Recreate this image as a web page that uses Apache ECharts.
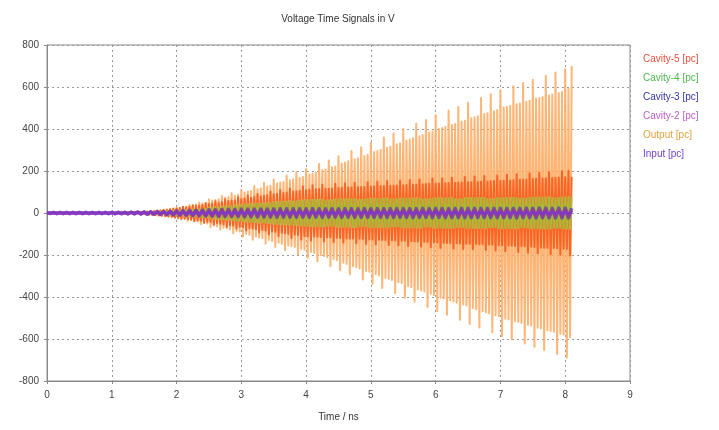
<!DOCTYPE html>
<html>
<head>
<meta charset="utf-8">
<script src="https://cdn.jsdelivr.net/npm/echarts@6/dist/echarts.min.js"></script>
<style>
  html, body { margin: 0; padding: 0; background: #fff; }
  #chart { width: 719px; height: 430px; }
</style>
</head>
<body>
<div id="chart"></div>
<script>
// Sampling of the exported traces: the large traces are stored from 1.0 ns at a
// fine step, the small ones from 0 ns at a coarser step.
const fineStartNs = 1.0;
const fineStepNs = 0.025;
const coarseStartNs = 0;
const coarseStepNs = 0.05;

const xTicks = [0, 1, 2, 3, 4, 5, 6, 7, 8, 9];
const yTicks = [-800, -600, -400, -200, 0, 200, 400, 600, 800];

// Output [pc], V (fine step, one row = 0.5 ns)
const outputPc = [
  0,0,1,-1,1,-1,1,-2,2,-2,2,-3,3,-3,4,-4,4,-5,5,-6,
  6,-7,8,-8,9,-10,11,-11,12,-13,14,-15,16,-17,18,-19,20,-21,22,-23,
  25,-27,24,-26,27,-29,30,-38,39,-35,37,-38,40,-41,50,-52,46,-47,49,-50,
  65,-67,59,-60,62,-64,65,-79,81,-71,73,-74,76,-78,94,-96,83,-85,87,-88,
  110,-112,98,-99,102,-104,105,-127,129,-112,114,-116,118,-120,144,-146,126,-128,130,-133,
  160,-162,140,-142,145,-146,148,-177,179,-155,156,-158,161,-162,194,-196,168,-171,173,-175,
  210,-213,184,-186,188,-190,193,-230,233,-201,203,-205,207,-210,250,-253,218,-219,222,-224,
  270,-273,235,-237,240,-243,246,-292,295,-253,256,-258,261,-264,313,-317,272,-275,277,-280,
  335,-338,290,-292,295,-298,301,-357,360,-309,311,-314,316,-319,378,-382,327,-330,332,-335,
  400,-403,345,-348,350,-354,356,-422,425,-364,366,-369,371,-374,443,-447,383,-385,388,-390,
  465,-468,400,-403,405,-407,410,-485,488,-417,420,-422,424,-427,505,-508,434,-436,439,-441,
  525,-528,451,-454,456,-458,461,-545,548,-468,471,-473,475,-478,565,-568,485,-487,490,-492,
  585,-587,502,-503,506,-507,509,-602,604,-516,518,-519,522,-524,619,-621,530,-532,534,-536,
  635,-637,544,-546,548,-550,552,-652,654,-558,560,-562,564,-566,669,-671,572,-575,576,-579,
  685,-688,590,-592,700
];

// Cavity-5 [pc], V (fine step)
const cavity5Pc = [
  0,0,0,0,1,-1,1,-1,1,-2,2,-2,2,-3,3,-3,3,-4,4,-4,
  5,-6,6,-7,7,-8,8,-9,10,-10,11,-12,13,-14,15,-16,17,-18,20,-22,
  21,-22,24,-29,30,-26,27,-29,30,-31,37,-39,34,-35,36,-37,38,-46,47,-42,
  43,-43,45,-54,56,-48,49,-51,52,-54,64,-65,57,-58,60,-60,61,-74,75,-65,
  66,-67,69,-82,83,-72,73,-74,76,-77,91,-93,80,-81,82,-83,84,-101,102,-88,
  89,-90,92,-109,110,-94,95,-97,98,-99,117,-119,102,-103,104,-105,106,-126,127,-110,
  110,-111,111,-131,132,-112,113,-113,114,-114,135,-135,116,-116,116,-116,117,-138,139,-118,
  119,-119,120,-141,142,-121,121,-122,122,-122,144,-144,123,-123,124,-124,124,-147,147,-126,
  126,-126,127,-149,149,-127,128,-128,128,-129,152,-152,130,-130,130,-131,131,-154,154,-132,
  132,-132,133,-157,157,-134,134,-135,135,-136,160,-160,137,-137,138,-138,139,-163,164,-140,
  140,-141,141,-166,166,-142,142,-143,143,-143,168,-169,144,-144,145,-145,145,-171,171,-146,
  146,-147,147,-173,174,-148,148,-149,149,-149,176,-176,150,-150,151,-151,152,-179,179,-152,
  153,-153,154,-182,182,-155,155,-156,156,-157,185,-186,158,-158,159,-159,160,-189,189,-161,
  162,-162,163,-192,192,-164,164,-165,165,-166,195,-196,167,-167,168,-168,169,-199,199,-170,
  170,-171,201,-202,172
];

// Cavity-4 [pc], V (fine step)
const cavity4Pc = [
  0,0,0,0,0,0,1,-1,1,-1,1,-1,1,-1,2,-2,2,-2,2,-3,
  3,-3,4,-4,5,-5,5,-6,6,-7,7,-8,8,-9,9,-10,10,-10,11,-11,
  12,-11,12,-13,14,-14,14,-15,15,-16,18,-17,16,-17,18,-19,19,-20,20,-21,
  25,-24,26,-27,28,-28,29,-29,30,-31,32,-33,31,-32,33,-34,36,-37,38,-38,
  40,-39,41,-41,42,-42,43,-43,44,-44,46,-46,44,-45,46,-47,48,-49,50,-50,
  52,-51,52,-53,54,-54,55,-55,56,-56,57,-57,55,-56,57,-58,59,-60,61,-61,
  62,-61,62,-63,63,-63,63,-63,64,-64,64,-64,60,-60,61,-61,62,-62,65,-65,
  65,-65,66,-66,66,-66,66,-66,67,-67,67,-67,62,-63,63,-63,64,-64,68,-68,
  68,-68,68,-68,68,-68,68,-68,69,-69,69,-69,64,-64,64,-64,65,-65,69,-69,
  69,-69,69,-69,69,-69,69,-69,70,-70,70,-70,65,-65,65,-65,66,-66,70,-70,
  70,-70,70,-70,70,-70,70,-70,71,-71,71,-71,66,-66,66,-66,67,-67,71,-71,
  71,-71,71,-71,71,-71,71,-71,72,-72,72,-72,67,-67,67,-67,68,-68,72,-72,
  72,-72,72,-72,72,-72,72,-72,73,-73,73,-73,68,-68,68,-68,69,-69,73,-73,
  73,-73,74,-74,74,-74,74,-74,74,-74,75,-75,70,-70,70,-70,71,-71,75,-75,
  75,-75,76,-76,76
];

// Cavity-3 [pc], V (coarse step, one row = 0.5 ns)
const cavity3Pc = [
  0,0,0,0,0,0,0,0,0,0,
  0,0,0,0,0,0,0,0,0,0,
  1,-1,1,-1,1,-2,2,-2,3,-3,
  4,-4,5,-5,6,-6,7,-7,8,-9,
  10,-10,11,-11,12,-12,13,-13,14,-14,
  15,-15,15,-16,16,-16,17,-17,17,-17,
  18,-18,18,-18,18,-19,19,-19,19,-19,
  20,-20,20,-20,20,-20,20,-20,20,-20,
  20,-20,21,-20,20,-21,20,-20,21,-20,
  20,-21,21,-20,21,-21,20,-21,21,-21,
  21,-21,21,-21,21,-21,21,-21,21,-21,
  21,-21,21,-22,21,-21,22,-21,21,-22,
  22,-21,22,-22,21,-22,22,-22,22,-22,
  22,-22,22,-22,22,-22,22,-22,22,-22,
  22,-22,22,-22,22,-23,22,-22,23,-22,
  22,-23,23,-22,23,-23,22,-23,23,-23,
  23,-23,23
];

// Cavity-2 [pc], V (coarse step)
const cavity2Pc = [
  0,0,0,0,0,0,0,0,0,0,
  1,-1,1,-1,1,-1,2,-2,2,-2,
  2,-3,3,-3,3,-4,4,-4,5,-5,
  5,-6,6,-6,7,-7,7,-8,8,-8,
  9,-9,9,-10,10,-10,10,-11,11,-11,
  11,-12,12,-12,12,-12,12,-12,12,-12,
  12,-12,12,-13,12,-12,13,-12,12,-13,
  12,-12,13,-13,12,-13,13,-12,13,-13,
  13,-13,12,-13,13,-13,13,-13,12,-13,
  13,-13,13,-12,13,-13,13,-13,13,-13,
  13,-13,13,-13,12,-13,13,-13,13,-13,
  13,-13,13,-13,13,-13,13,-13,13,-13,
  13,-13,13,-13,13,-13,13,-13,13,-13,
  13,-13,13,-13,13,-13,13,-13,13,-13,
  13,-13,13,-13,13,-13,13,-13,13,-13,
  13,-13,13,-13,13,-13,13,-13,13,-13,
  13,-13,13
];

// Input [pc], V (coarse step)
const inputPc = [
  5,-5,6,-6,6,-6,6,-6,6,-6,
  6,-6,6,-6,6,-6,6,-6,6,-6,
  6,-6,6,-6,6,-6,6,-6,6,-6,
  6,-6,6,-6,6,-6,6,-6,6,-6,
  6,-6,6,-6,6,-6,6,-6,6,-6,
  6,-6,6,-6,6,-6,6,-6,6,-6,
  6,-6,6,-6,6,-6,6,-6,6,-6,
  6,-6,6,-6,6,-6,6,-6,6,-6,
  6,-6,6,-6,6,-6,6,-6,6,-6,
  6,-6,6,-6,6,-6,6,-6,6,-6,
  6,-6,6,-6,6,-6,6,-6,6,-6,
  6,-6,6,-6,6,-6,6,-6,6,-6,
  6,-6,6,-6,6,-6,6,-6,6,-6,
  6,-6,6,-6,6,-6,6,-6,6,-6,
  6,-6,6,-6,6,-6,6,-6,6,-6,
  6,-6,6,-6,6,-6,6,-6,6,-6,
  6,-6,6
];

// Legend order (top to bottom) and label colours
const legendNames = ['Cavity-5 [pc]', 'Cavity-4 [pc]', 'Cavity-3 [pc]', 'Cavity-2 [pc]', 'Output [pc]', 'Input [pc]'];
const legendColors = ['#E8503C', '#4CB84C', '#3434A8', '#C060C8', '#E8A040', '#7040D0'];

// Drawing order: the largest trace first so the smaller ones stay visible on top
const traces = [
  { name: 'Output [pc]',   values: outputPc,  start: fineStartNs,   step: fineStepNs,   color: '#FFAD66', width: 2, opacity: 0.9 },
  { name: 'Cavity-5 [pc]', values: cavity5Pc, start: fineStartNs,   step: fineStepNs,   color: '#FA5C1E', width: 2, opacity: 0.9 },
  { name: 'Cavity-4 [pc]', values: cavity4Pc, start: fineStartNs,   step: fineStepNs,   color: '#A0C438', width: 2, opacity: 0.9 },
  { name: 'Cavity-3 [pc]', values: cavity3Pc, start: coarseStartNs, step: coarseStepNs, color: '#5C3CB4', width: 3.6, opacity: 0.75 },
  { name: 'Cavity-2 [pc]', values: cavity2Pc, start: coarseStartNs, step: coarseStepNs, color: '#A83094', width: 3.4, opacity: 0.75 },
  { name: 'Input [pc]',    values: inputPc,   start: coarseStartNs, step: coarseStepNs, color: '#7A38D0', width: 2.6, opacity: 0.8 }
];

const font = 'Liberation Sans';
const chart = echarts.init(document.getElementById('chart'), null, { renderer: 'canvas' });

chart.setOption({
  animation: false,
  backgroundColor: '#ffffff',
  grid: { left: 47, right: 89, top: 45, bottom: 49, show: true, borderColor: '#8a8a8a', borderWidth: 1 },
  graphic: [{
    type: 'text', x: 338, y: 14,
    style: { text: 'Voltage Time Signals in V', fill: '#333', font: '10px "' + font + '"', textAlign: 'center' }
  }],
  legend: {
    orient: 'vertical', left: 633, top: 49, itemWidth: 0, itemHeight: 0, itemGap: 9,
    selectedMode: false,
    data: legendNames.map((n, i) => ({ name: n, icon: 'rect', textStyle: { color: legendColors[i] } })),
    textStyle: { fontFamily: font, fontSize: 10 }
  },
  xAxis: {
    type: 'value', min: xTicks[0], max: xTicks[xTicks.length - 1], interval: 1,
    name: 'Time / ns', nameLocation: 'middle', nameGap: 31,
    nameTextStyle: { fontFamily: font, fontSize: 10, color: '#333' },
    axisLine: { show: true, onZero: false, lineStyle: { color: '#8a8a8a' } },
    axisTick: { show: true, length: 3, lineStyle: { color: '#8a8a8a' } },
    axisLabel: { fontFamily: font, fontSize: 10, color: '#444', margin: 9 },
    splitLine: { show: true, lineStyle: { color: '#9a9a9a', type: [2, 3] } }
  },
  yAxis: {
    type: 'value', min: yTicks[0], max: yTicks[yTicks.length - 1], interval: 200,
    axisLine: { show: true, onZero: false, lineStyle: { color: '#8a8a8a' } },
    axisTick: { show: true, length: 3, lineStyle: { color: '#8a8a8a' } },
    axisLabel: { fontFamily: font, fontSize: 10, color: '#444', margin: 8 },
    splitLine: { show: true, lineStyle: { color: '#9a9a9a', type: [2, 3] } }
  },
  series: traces.map(tr => ({
    name: tr.name,
    type: 'line',
    showSymbol: false,
    sampling: null,
    color: tr.color,
    lineStyle: { width: tr.width, color: tr.color, opacity: tr.opacity, join: 'round' },
    emphasis: { disabled: true },
    data: tr.values.map((v, i) => [+(tr.start + i * tr.step).toFixed(3), v])
  }))
});
</script>
</body>
</html>
